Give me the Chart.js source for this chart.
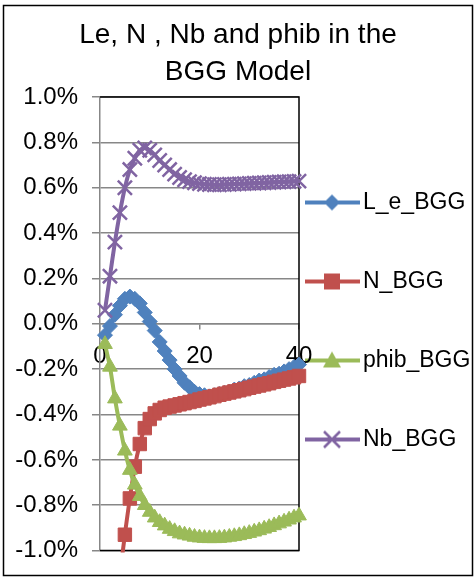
<!DOCTYPE html>
<html>
<head>
<meta charset="utf-8">
<script src="https://cdn.jsdelivr.net/npm/chart.js@4.4.1/dist/chart.umd.min.js"></script>
<style>
  html, body { margin: 0; padding: 0; background: #fff; }
</style>
</head>
<body>
<canvas id="bggChart" width="476" height="579"></canvas>
<script>
// Periods (x axis) and the four series, values in percent
const periods = [1, 2, 3, 4, 5, 6, 7, 8, 9, 10, 11, 12, 13, 14, 15, 16, 17, 18, 19, 20,
                 21, 22, 23, 24, 25, 26, 27, 28, 29, 30, 31, 32, 33, 34, 35, 36, 37, 38, 39, 40];
const xTicks = [0, 20, 40];

const leBGG = [-0.05, -0.01, 0.04, 0.08, 0.11, 0.12, 0.11, 0.09, 0.05, 0.01,
               -0.03, -0.08, -0.12, -0.16, -0.20, -0.23, -0.26, -0.28, -0.30, -0.31,
               -0.315, -0.32, -0.315, -0.31, -0.305, -0.30, -0.29, -0.285, -0.275, -0.27,
               -0.26, -0.25, -0.245, -0.235, -0.225, -0.22, -0.21, -0.20, -0.19, -0.18];
const nBGG = [-2.6, -1.9, -1.45, -1.12, -0.93, -0.77, -0.63, -0.53, -0.46, -0.42,
              -0.395, -0.38, -0.37, -0.365, -0.36, -0.355, -0.35, -0.345, -0.34, -0.334,
              -0.329, -0.324, -0.319, -0.313, -0.308, -0.303, -0.298, -0.293, -0.288, -0.282,
              -0.277, -0.272, -0.267, -0.262, -0.256, -0.251, -0.246, -0.241, -0.236, -0.23];
const phibBGG = [-0.09, -0.19, -0.33, -0.45, -0.56, -0.645, -0.71, -0.76, -0.80, -0.83,
                 -0.855, -0.875, -0.89, -0.905, -0.915, -0.925, -0.93, -0.935, -0.94, -0.943,
                 -0.945, -0.946, -0.946, -0.945, -0.943, -0.94, -0.937, -0.933, -0.928, -0.923,
                 -0.917, -0.911, -0.904, -0.897, -0.889, -0.881, -0.873, -0.864, -0.855, -0.846];
const nbBGG = [0.06, 0.21, 0.36, 0.49, 0.60, 0.68, 0.73, 0.765, 0.775, 0.765,
               0.745, 0.72, 0.70, 0.68, 0.66, 0.645, 0.635, 0.627, 0.622, 0.618,
               0.615, 0.614, 0.613, 0.613, 0.614, 0.615, 0.616, 0.617, 0.618, 0.619,
               0.62, 0.621, 0.622, 0.623, 0.624, 0.625, 0.626, 0.627, 0.628, 0.629];

const FONT = "'Liberation Sans', Arial, sans-serif";
const GRID = '#878787';

// Legend icon: short line with the marker on it (like Excel)
function legendIcon(color, marker) {
    const c = document.createElement('canvas');
    c.width = 120;
    c.height = 28;
    const g = c.getContext('2d');
    const cy = 14, mx = 41;
    g.strokeStyle = color;
    g.fillStyle = color;
    g.lineWidth = 4;
    g.beginPath();
    g.moveTo(14, cy);
    g.lineTo(69, cy);
    g.stroke();
    g.beginPath();
    if (marker === 'diamond') {
        g.moveTo(mx, cy - 8); g.lineTo(mx + 8, cy); g.lineTo(mx, cy + 8); g.lineTo(mx - 8, cy);
        g.closePath(); g.fill();
    } else if (marker === 'square') {
        g.fillRect(mx - 8, cy - 8, 16, 16);
    } else if (marker === 'triangle') {
        g.moveTo(mx, cy - 9); g.lineTo(mx + 9, cy + 7); g.lineTo(mx - 9, cy + 7);
        g.closePath(); g.fill();
    } else {
        g.lineWidth = 2.5;
        g.moveTo(mx - 8, cy - 8); g.lineTo(mx + 8, cy + 8);
        g.moveTo(mx + 8, cy - 8); g.lineTo(mx - 8, cy + 8);
        g.stroke();
    }
    return c;
}

const icons = [
    legendIcon('#4F81BD', 'diamond'),
    legendIcon('#C0504D', 'square'),
    legendIcon('#9BBB59', 'triangle'),
    legendIcon('#8064A2', 'cross')
];

// White background, outer frame and black plot-area frame
const frames = {
    id: 'frames',
    beforeDraw(chart) {
        const ctx = chart.ctx;
        ctx.save();
        ctx.fillStyle = '#fff';
        ctx.fillRect(0, 0, chart.width, chart.height);
        ctx.strokeStyle = '#000';
        ctx.lineWidth = 1.5;
        ctx.strokeRect(3.5, 5.5, 469, 570);
        ctx.restore();
    },
    beforeDatasetsDraw(chart) {
        const { ctx, chartArea: a } = chart;
        ctx.save();
        ctx.strokeStyle = '#000';
        ctx.lineWidth = 1.5;
        ctx.beginPath();
        ctx.moveTo(a.left, a.top);
        ctx.lineTo(a.right, a.top);
        ctx.lineTo(a.right, a.bottom);
        ctx.lineTo(a.left, a.bottom);
        ctx.stroke();
        ctx.restore();
    }
};

// Nudge the legend block to where Excel puts it
const legendNudge = {
    id: 'legendNudge',
    afterLayout(chart) {
        chart.legend.left -= 4.5;
        chart.legend.right -= 4.5;
        chart.legend.top += 30;
        chart.legend.bottom += 48;
    }
};

function series(label, data, color, style, radius, order) {
    return {
        label: label,
        data: data,
        borderColor: color,
        backgroundColor: color,
        borderWidth: 4,
        pointStyle: style,
        pointRadius: radius,
        pointBorderWidth: style === 'crossRot' ? 2.5 : 1,
        pointBackgroundColor: color,
        pointBorderColor: color,
        tension: 0.3,
        order: order,
        clip: { left: 10, right: 10, top: 0, bottom: 2 }
    };
}

new Chart(document.getElementById('bggChart'), {
    type: 'line',
    data: {
        labels: periods,
        datasets: [
            series('L_e_BGG', leBGG, '#4F81BD', 'rectRot', 7.5, 4),
            series('N_BGG', nBGG, '#C0504D', 'rect', 9.5, 3),
            series('phib_BGG', phibBGG, '#9BBB59', 'triangle', 8.5, 2),
            series('Nb_BGG', nbBGG, '#8064A2', 'crossRot', 10, 1)
        ]
    },
    plugins: [frames, legendNudge],
    options: {
        responsive: false,
        devicePixelRatio: 1,
        animation: false,
        layout: { padding: { top: 8, right: 0, bottom: 23, left: 0 } },
        plugins: {
            title: {
                display: true,
                text: ['Le, N , Nb and phib in the', 'BGG Model'],
                color: '#000',
                font: { family: FONT, size: 28, weight: 'normal', lineHeight: 1.35 },
                padding: { top: 8, bottom: 5.4 }
            },
            legend: {
                position: 'right',
                maxWidth: 177,
                labels: {
                    color: '#000',
                    font: { family: FONT, size: 23 },
                    usePointStyle: true,
                    pointStyleWidth: 1,
                    padding: 56,
                    sort: (a, b) => a.datasetIndex - b.datasetIndex,
                    generateLabels(chart) {
                        return Chart.defaults.plugins.legend.labels.generateLabels(chart).map(item => {
                            item.pointStyle = icons[item.datasetIndex];
                            return item;
                        });
                    }
                }
            },
            tooltip: { enabled: false }
        },
        scales: {
            x: {
                type: 'linear',
                min: 0,
                max: 40,
                position: { y: 0 },
                afterBuildTicks: scale => { scale.ticks = xTicks.map(v => ({ value: v })); },
                ticks: { color: '#000', font: { family: FONT, size: 24 }, padding: 13, maxRotation: 0 },
                grid: { drawOnChartArea: false, drawTicks: true, tickLength: 5, color: GRID, lineWidth: 1.5 },
                border: { color: GRID, width: 1.5 }
            },
            y: {
                min: -1,
                max: 1,
                afterFit: scale => { scale.width = 100; },
                ticks: {
                    stepSize: 0.2,
                    color: '#000',
                    font: { family: FONT, size: 24 },
                    padding: 14,
                    callback: v => (Math.abs(v) < 1e-9 ? 0 : v).toFixed(1) + '%'
                },
                grid: { color: GRID, lineWidth: 1.5, tickLength: 8 },
                border: { color: GRID, width: 1.5 }
            }
        }
    }
});
</script>
</body>
</html>
